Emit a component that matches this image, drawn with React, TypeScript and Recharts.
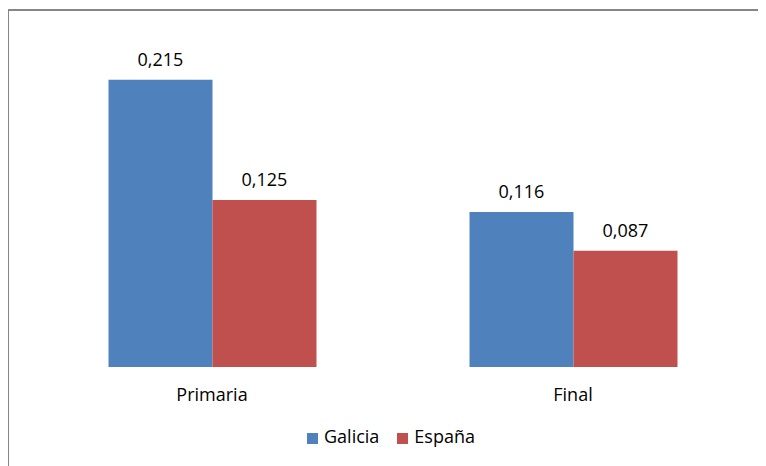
import React from "react";
import { BarChart, Bar, XAxis, YAxis, Legend, LabelList } from "recharts";

const categories = ["Primaria", "Final"];
const seriesNames = ["Galicia", "España"];
const galicia = [0.215, 0.116];
const espana = [0.125, 0.087];

const data = categories.map((name, i) => ({
  name,
  Galicia: galicia[i],
  España: espana[i]
}));

const FONT = "'Open Sans', 'Noto Sans', sans-serif";
const fmt = (v: any) => String(Number(v).toFixed(3)).replace(".", ",");

export default function App() {
  return (
    <div
      style={{
        position: "relative",
        margin: "-8px 0 0 -8px",
        width: 766,
        height: 466,
        overflow: "hidden",
        background: "#ffffff",
        fontFamily: FONT
      }}
    >
      {/* chart frame, only top and left edges fall inside the view */}
      <div
        style={{
          position: "absolute",
          left: 7,
          top: 9,
          width: 820,
          height: 520,
          borderTop: "2px solid #868686",
          borderLeft: "2px solid #868686"
        }}
      />
      <div style={{ position: "absolute", left: 0, top: 0 }}>
        <BarChart
          width={766}
          height={466}
          data={data}
          margin={{ top: 33, right: 12.5, left: 31.5, bottom: 69 }}
          barGap={0}
          barCategoryGap={77}
        >
          <XAxis
            dataKey="name"
            axisLine={false}
            tickLine={false}
            tickSize={0}
            tickMargin={21}
            tick={{ fill: "#000", fontSize: 18, fontFamily: FONT }}
          />
          <YAxis hide domain={[0, 0.25]} />
          <Legend
            verticalAlign="middle"
            align="center"
            iconType="square"
            iconSize={11}
            itemSorter={(item: any) => seriesNames.indexOf(item.value)}
            wrapperStyle={{ top: 424, left: 13, width: 766, fontSize: 18, fontFamily: FONT }}
            formatter={(value) => (
              <span style={{ color: "#000", marginLeft: 2, marginRight: value === "Galicia" ? 8 : 0 }}>
                {value}
              </span>
            )}
          />
          <Bar dataKey="Galicia" fill="#4F81BD" isAnimationActive={false}>
            <LabelList
              dataKey="Galicia"
              position="top"
              offset={14}
              formatter={fmt}
              style={{ fill: "#000", fontSize: 18, fontFamily: FONT }}
            />
          </Bar>
          <Bar dataKey="España" fill="#C0504D" isAnimationActive={false}>
            <LabelList
              dataKey="España"
              position="top"
              offset={14}
              formatter={fmt}
              style={{ fill: "#000", fontSize: 18, fontFamily: FONT }}
            />
          </Bar>
        </BarChart>
      </div>
    </div>
  );
}
